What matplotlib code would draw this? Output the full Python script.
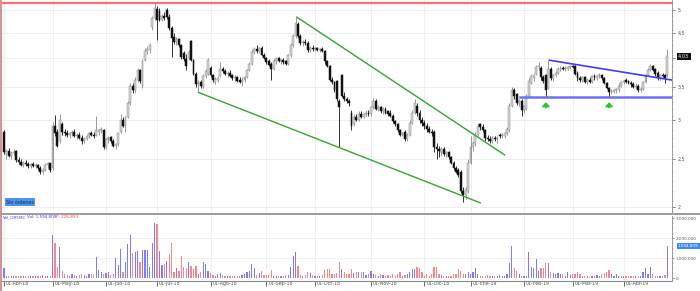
import matplotlib
matplotlib.use('Agg')
import matplotlib.pyplot as plt
import matplotlib.transforms as mtransforms
from matplotlib.lines import Line2D
from matplotlib.ticker import FixedLocator, NullFormatter
import numpy as np
import pandas as pd

# ---------------- data (daily OHLC, ORY.MC, Apr-2018 .. Apr-2019) ----------------
opens = [
    2.83,2.56,2.60,2.54,2.57,2.60,2.49,2.47,2.43,2.46,2.44,2.42,2.44,2.42,2.43,2.40,2.36,2.38,2.43,2.45,
    2.40,2.92,2.83,2.72,2.95,2.84,2.82,2.80,2.82,2.84,2.78,2.80,2.76,2.72,2.75,2.78,2.82,2.80,2.80,2.84,2.86,2.86,
    2.64,2.74,2.77,2.72,2.66,2.68,2.84,3.00,2.92,3.04,3.24,3.52,3.44,3.62,3.78,3.52,3.96,4.14,4.15,4.62,4.82,
    5.02,4.98,4.78,4.86,5.00,4.85,4.60,4.42,4.32,4.38,4.26,4.10,3.98,4.00,4.34,3.96,3.72,3.54,3.58,3.50,3.68,3.72,
    3.82,3.70,3.58,3.62,3.68,3.80,3.76,3.72,3.74,3.70,3.64,3.66,3.62,3.58,3.62,3.66,3.78,3.90,4.12,4.18,4.14,4.20,4.06,
    4.00,3.94,3.90,3.80,3.94,4.00,3.94,3.96,3.94,3.90,4.05,4.25,4.44,4.68,4.44,4.30,4.32,4.30,4.16,4.20,
    4.18,4.20,4.16,4.18,4.14,3.94,3.86,3.62,3.58,3.60,3.28,3.70,3.36,3.30,3.28,3.10,2.94,3.04,3.00,3.08,3.04,3.08,3.10,
    3.08,3.18,3.28,3.16,3.18,3.12,3.16,3.12,3.10,3.06,2.98,2.94,2.86,2.80,2.84,2.74,2.80,2.96,3.10,3.20,3.10,3.00,
    2.96,2.92,2.88,2.84,2.84,2.64,2.62,2.58,2.62,2.56,2.58,2.52,2.46,2.40,2.38,2.36,2.16,2.12,2.16,
    2.46,2.64,2.70,2.80,2.94,2.90,2.86,2.76,2.74,2.72,2.76,2.74,2.80,2.78,2.78,2.82,2.86,3.20,3.44,3.38,3.24,3.28,
    3.14,3.16,3.36,3.56,3.64,3.72,3.84,3.82,3.66,3.70,3.48,3.80,3.64,3.70,3.74,3.80,3.82,3.80,3.80,3.84,
    3.86,3.86,3.74,3.64,3.62,3.66,3.58,3.62,3.58,3.68,3.64,3.68,3.70,3.64,3.56,3.48,3.42,3.42,3.44,3.44,3.52,
    3.58,3.62,3.60,3.56,3.54,3.50,3.52,3.44,3.46,3.58,3.70,3.78,3.86,3.80,3.74,3.64,3.70,3.70,3.70,
]
highs = [
    2.86,2.62,2.63,2.60,2.62,2.61,2.52,2.50,2.48,2.49,2.47,2.46,2.47,2.45,2.44,2.42,2.40,2.45,2.47,2.46,
    2.97,3.07,2.87,3.08,2.97,2.88,2.86,2.84,2.86,2.87,2.82,2.83,2.80,2.77,2.80,2.84,2.85,2.84,3.05,2.88,2.90,2.88,
    2.76,2.78,2.79,2.74,2.70,2.84,3.08,3.04,3.06,3.28,3.56,3.56,3.66,3.82,3.80,3.98,4.20,4.24,4.30,4.86,5.17,
    5.10,5.05,4.90,4.95,5.05,4.92,4.64,4.50,4.42,4.40,4.28,4.14,4.08,4.16,4.36,3.98,3.75,3.62,3.62,3.72,3.80,4.00,
    3.86,3.72,3.66,3.68,3.92,3.84,3.80,3.76,3.78,3.72,3.70,3.68,3.66,3.66,3.68,3.80,3.92,4.18,4.22,4.26,4.22,4.24,4.10,
    4.02,3.98,3.92,3.98,4.02,4.02,3.98,4.00,3.96,4.08,4.30,4.48,4.84,4.72,4.48,4.36,4.38,4.34,4.24,4.26,
    4.22,4.22,4.20,4.22,4.16,3.96,3.88,3.66,3.60,3.62,3.30,3.72,3.42,3.34,3.30,3.14,3.08,3.08,3.12,3.12,3.10,3.14,3.14,
    3.20,3.32,3.30,3.22,3.20,3.18,3.18,3.14,3.14,3.08,3.00,2.96,2.88,2.84,2.86,2.82,3.00,3.14,3.30,3.24,3.14,3.04,
    3.00,2.96,2.92,2.88,2.86,2.70,2.66,2.64,2.64,2.60,2.60,2.54,2.48,2.42,2.40,2.38,2.20,2.20,2.50,
    2.78,2.72,2.84,2.96,2.96,2.94,2.88,2.80,2.78,2.78,2.78,2.78,2.82,2.82,2.84,2.90,3.24,3.50,3.48,3.40,3.30,3.30,
    3.22,3.38,3.64,3.72,3.72,3.88,3.92,3.86,3.70,3.72,3.96,3.84,3.72,3.76,3.84,3.86,3.86,3.86,3.86,3.88,
    3.88,3.88,3.76,3.68,3.68,3.68,3.64,3.66,3.70,3.72,3.70,3.74,3.72,3.66,3.58,3.50,3.46,3.46,3.48,3.56,3.60,
    3.62,3.64,3.62,3.60,3.58,3.56,3.54,3.50,3.60,3.72,3.82,3.90,3.88,3.82,3.76,3.72,3.74,3.72,4.18,
]
lows = [
    2.56,2.50,2.52,2.50,2.55,2.47,2.44,2.42,2.41,2.42,2.40,2.40,2.41,2.40,2.38,2.33,2.33,2.37,2.40,2.36,
    2.38,2.78,2.64,2.70,2.80,2.78,2.77,2.76,2.79,2.77,2.74,2.74,2.68,2.70,2.73,2.76,2.78,2.76,2.78,2.80,2.82,2.62,
    2.62,2.70,2.70,2.64,2.62,2.66,2.82,2.90,2.84,3.02,3.22,3.40,3.40,3.58,3.56,3.48,3.94,4.08,4.10,4.55,4.78,
    4.35,4.75,4.75,4.78,4.80,4.55,4.02,4.28,4.25,4.22,3.98,3.94,3.78,3.96,3.94,3.70,3.50,3.42,3.48,3.48,3.64,3.70,
    3.66,3.58,3.55,3.58,3.66,3.74,3.70,3.66,3.66,3.62,3.60,3.58,3.56,3.52,3.58,3.64,3.76,3.88,4.08,4.10,4.10,4.04,3.98,
    3.90,3.86,3.62,3.78,3.90,3.92,3.90,3.90,3.88,3.88,4.02,4.22,4.40,4.40,4.25,4.24,4.26,4.12,4.12,4.14,
    4.14,4.14,4.12,4.12,3.90,3.84,3.60,3.54,3.42,3.28,2.64,3.34,3.28,3.24,3.20,2.86,2.92,2.98,2.98,3.02,3.02,3.06,3.06,
    3.06,3.16,3.14,3.12,3.10,3.08,3.08,3.06,3.04,2.96,2.92,2.84,2.78,2.78,2.72,2.72,2.78,2.94,3.08,3.06,2.96,2.92,
    2.88,2.84,2.82,2.78,2.58,2.50,2.52,2.54,2.54,2.52,2.50,2.44,2.38,2.34,2.30,2.14,2.05,2.08,2.14,
    2.44,2.60,2.66,2.78,2.86,2.84,2.72,2.72,2.70,2.70,2.72,2.70,2.76,2.76,2.76,2.80,2.84,3.18,3.30,3.22,3.20,3.06,
    3.10,3.14,3.34,3.54,3.60,3.70,3.78,3.62,3.56,3.34,3.46,3.62,3.60,3.66,3.72,3.76,3.78,3.76,3.78,3.80,
    3.82,3.70,3.60,3.58,3.58,3.56,3.54,3.56,3.56,3.62,3.62,3.64,3.62,3.54,3.46,3.34,3.38,3.40,3.40,3.42,3.50,
    3.54,3.56,3.54,3.50,3.48,3.46,3.42,3.42,3.44,3.56,3.68,3.76,3.76,3.68,3.62,3.62,3.66,3.56,3.66,
]
closes = [
    2.58,2.60,2.54,2.57,2.59,2.49,2.47,2.43,2.46,2.44,2.42,2.44,2.42,2.43,2.40,2.36,2.38,2.43,2.45,2.38,
    2.92,2.82,2.66,3.00,2.84,2.82,2.80,2.82,2.84,2.78,2.80,2.76,2.72,2.75,2.78,2.82,2.80,2.78,2.86,2.86,2.88,2.64,
    2.74,2.76,2.72,2.66,2.68,2.82,3.00,2.92,3.04,3.24,3.52,3.44,3.62,3.78,3.60,3.94,4.14,4.18,4.25,4.82,5.05,
    4.77,4.78,4.86,4.82,4.84,4.60,4.40,4.32,4.38,4.26,4.02,3.98,3.85,4.12,3.96,3.72,3.54,3.56,3.52,3.68,3.76,3.96,
    3.70,3.62,3.63,3.65,3.80,3.76,3.72,3.74,3.68,3.64,3.66,3.60,3.58,3.62,3.66,3.78,3.90,4.12,4.18,4.14,4.20,4.06,4.00,
    3.92,3.88,3.80,3.94,3.98,3.94,3.96,3.92,3.90,4.05,4.25,4.44,4.70,4.44,4.30,4.32,4.30,4.16,4.20,4.18,
    4.20,4.16,4.18,4.14,3.94,3.86,3.62,3.58,3.44,3.30,3.18,3.36,3.30,3.28,3.24,2.92,3.04,3.00,3.08,3.04,3.08,3.10,3.08,
    3.18,3.28,3.16,3.18,3.12,3.16,3.10,3.08,3.06,2.98,2.94,2.86,2.80,2.82,2.74,2.80,2.96,3.10,3.24,3.10,3.00,2.96,
    2.92,2.88,2.84,2.82,2.64,2.62,2.60,2.62,2.56,2.58,2.52,2.46,2.40,2.36,2.32,2.16,2.12,2.18,2.46,
    2.64,2.70,2.80,2.92,2.90,2.86,2.76,2.74,2.72,2.76,2.74,2.76,2.78,2.80,2.82,2.88,3.20,3.44,3.36,3.24,3.28,3.14,
    3.20,3.36,3.60,3.68,3.70,3.84,3.86,3.66,3.60,3.44,3.80,3.64,3.70,3.74,3.80,3.82,3.80,3.82,3.84,3.86,
    3.84,3.72,3.64,3.62,3.66,3.58,3.62,3.58,3.68,3.66,3.68,3.70,3.64,3.56,3.48,3.42,3.42,3.44,3.46,3.52,3.58,
    3.60,3.58,3.56,3.54,3.50,3.52,3.44,3.46,3.58,3.70,3.78,3.86,3.78,3.72,3.64,3.70,3.68,3.64,4.03,
]
# volume in millions of shares
volumes_m = [
    0.50,0.12,0.08,0.10,0.12,0.10,0.09,0.10,0.12,0.10,0.11,0.10,0.09,0.10,0.12,0.10,0.14,0.10,0.12,0.10,
    2.15,1.75,0.55,1.55,0.35,0.20,0.15,0.12,0.18,0.14,0.12,0.16,0.20,0.14,0.12,0.18,0.20,0.15,1.05,0.40,0.30,0.20,
    0.25,0.30,0.15,0.20,1.00,0.65,1.45,0.30,0.80,1.70,2.15,1.25,1.30,1.35,0.80,1.40,1.40,1.40,0.55,1.75,2.75,
    2.70,1.35,0.65,0.70,0.85,1.20,1.75,0.30,0.50,0.35,1.10,0.55,0.50,0.80,0.60,0.45,0.60,0.20,0.30,0.80,0.70,0.35,
    0.25,0.15,0.12,0.20,0.25,0.15,0.12,0.10,0.12,0.10,0.10,0.12,0.10,0.15,0.20,0.30,0.35,0.70,0.50,0.15,0.25,0.35,0.15,
    0.15,0.15,0.40,0.12,0.10,0.12,0.10,0.12,0.15,0.15,0.55,1.10,1.30,0.60,0.15,0.12,0.15,0.30,0.25,0.15,
    0.08,0.12,0.08,0.15,0.40,0.45,0.45,0.20,0.20,0.25,0.80,0.45,0.30,0.20,0.20,0.45,0.25,0.30,0.30,0.28,0.30,0.15,0.20,
    0.35,0.20,0.15,0.12,0.20,0.15,0.10,0.15,0.10,0.20,0.10,0.22,0.30,0.10,0.15,0.20,0.30,0.45,0.45,0.55,0.50,0.30,
    0.10,0.22,0.10,0.20,0.55,0.55,0.20,0.15,0.10,0.10,0.10,0.10,0.20,0.20,0.45,0.35,0.20,0.20,0.30,
    0.20,0.30,0.50,0.20,0.10,0.12,0.10,0.15,0.12,0.10,0.12,0.10,0.15,0.12,0.10,0.20,0.75,1.60,0.50,0.35,0.20,0.10,
    0.10,0.10,1.30,0.55,0.50,0.95,0.35,0.50,0.50,0.75,0.75,0.30,0.25,0.20,0.25,0.20,0.20,0.10,0.30,0.15,
    0.20,0.18,0.30,0.20,0.10,0.10,0.08,0.05,0.10,0.10,0.15,0.10,0.20,0.25,0.30,0.40,0.20,0.10,0.20,0.10,0.08,
    0.08,0.10,0.08,0.10,0.08,0.10,0.10,0.10,0.30,0.50,0.20,0.55,0.20,0.10,0.10,0.10,0.10,0.15,1.594809,
]
market_holidays = ['2018-05-01', '2018-12-25', '2018-12-26', '2019-01-01', '2019-04-19', '2019-04-22']
month_names = ['Ene', 'Feb', 'Mar', 'Abr', 'May', 'Jun', 'Jul', 'Ago', 'Sep', 'Oct', 'Nov', 'Dic']
price_ticks = [2, 2.5, 3, 3.5, 4, 4.5, 5]
volume_ticks = [0, 1_000_000, 2_000_000, 3_000_000]

# drawn studies (bar index, price)
resistance_level = 5.17
lower_channel = ([80, 196], [3.41, 2.04])
upper_channel = ([120.5, 206], [4.84, 2.55])
triangle_top = ([224.5, 275], [3.96, 3.61])
triangle_base = ([212.5, 275], [3.34, 3.34])
signal_bars = [223, 249]
legend_p = '226.893'

# ---------------- build ----------------
o = np.array(opens); h = np.array(highs); l = np.array(lows); c = np.array(closes)
vol = np.array(volumes_m) * 1e6
n = min(len(o), len(h), len(l), len(c), len(vol))
o, h, l, c, vol = o[:n], h[:n], l[:n], c[:n], vol[:n]
x = np.arange(n)

bd = pd.bdate_range('2018-04-03', '2019-07-31')
bd = bd[~bd.isin(pd.to_datetime(market_holidays))][:n]

def es_num(v):
    return f"{v:,.0f}".replace(',', '.')

def es_dec(v):
    return f"{v:g}".replace('.', ',')

W, H = 700, 291
fig = plt.figure(figsize=(W / 100, H / 100), dpi=100)
fig.patch.set_facecolor('white')

ax = fig.add_axes([2 / W, 1 - 212 / H, 670 / W, 212 / H])
axv = fig.add_axes([2 / W, 1 - 281 / H, 670 / W, 65 / H], sharex=ax)

month_idx = [i for i in range(n) if i == 0 or bd[i].month != bd[i - 1].month]
month_lbl = [f"01-{month_names[bd[i].month - 1]}-{bd[i].strftime('%y')}" for i in month_idx]

grid_c = '#ececec'
for a in (ax, axv):
    for i in month_idx:
        a.axvline(i, color=grid_c, lw=0.6, zorder=0)
for p in price_ticks:
    ax.axhline(p, color=grid_c, lw=0.6, zorder=0)
for v in volume_ticks[1:3]:
    axv.axhline(v, color=grid_c, lw=0.6, zorder=0)

# candles
up = c >= o
ax.vlines(x[up], l[up], h[up], color='#8a8a8a', lw=0.6, zorder=2)
ax.vlines(x[~up], l[~up], h[~up], color='#111111', lw=0.6, zorder=2)
body = np.maximum(np.abs(c - o), 0.01)
ax.bar(x[up], body[up], bottom=np.minimum(o, c)[up], width=0.78,
       color='#d6d6d6', edgecolor='#8a8a8a', lw=0.35, zorder=3)
ax.bar(x[~up], body[~up], bottom=np.minimum(o, c)[~up], width=0.78,
       color='#111111', edgecolor='#111111', lw=0.35, zorder=3)

ax.set_yscale('log')
ax.set_ylim(1.955, 5.24)
ax.set_xlim(-0.8, n + 0.9)

# studies
ax.axhline(resistance_level, color='#ff6e6e', lw=1.6, zorder=4)
ax.plot(*lower_channel, color='#2ea82e', lw=1.0, zorder=4)
ax.plot(*upper_channel, color='#2ea82e', lw=1.0, zorder=4)
ax.plot(*triangle_top, color='#3c3cff', lw=1.2, zorder=4)
ax.plot(*triangle_base, color='#6e6eff', lw=1.8, zorder=4)
for b in signal_bars:
    ax.annotate('', xy=(b, l[b] * 0.975), xytext=(b, l[b] * 0.952),
                arrowprops=dict(arrowstyle='-|>,head_width=0.2,head_length=0.2',
                                color='#22cc22', lw=1.4, shrinkA=0, shrinkB=0), zorder=5)

# last-price marker label takes the place of the tick label it covers
last_txt = es_dec(round(c[-1], 2))
covered = min(price_ticks, key=lambda p: abs(np.log(p) - np.log(c[-1])))
price_lbls = ['' if (p == covered and abs(np.log(p / c[-1])) < 0.03) else es_dec(p) for p in price_ticks]

# price axis
ax.yaxis.tick_right()
ax.yaxis.set_major_locator(FixedLocator(price_ticks))
ax.set_yticklabels(price_lbls)
ax.yaxis.set_minor_locator(FixedLocator(np.arange(1.96, 5.24, 0.1)))
ax.yaxis.set_minor_formatter(NullFormatter())
ax.tick_params(axis='y', which='major', labelsize=3.4, length=2, width=0.5, colors='#555555', pad=2)
ax.tick_params(axis='y', which='minor', length=1, width=0.4, colors='#888888')
ax.tick_params(axis='x', which='both', bottom=False, labelbottom=False)
for s in ('left', 'top', 'bottom'):
    ax.spines[s].set_visible(False)
ax.spines['right'].set_color('#8a8a8a')
ax.spines['right'].set_linewidth(0.6)

trans = mtransforms.blended_transform_factory(ax.transAxes, ax.transData)
ax.text(1.009, c[-1], last_txt, transform=trans, fontsize=3.6, color='white',
        va='center', ha='left', zorder=10, clip_on=False,
        bbox=dict(facecolor='#111111', edgecolor='none', pad=1.0))

fig.text(6 / W, 1 - 202 / H, 'Sin órdenes', fontsize=3.4, color='#1a2a4a', va='center', ha='left',
         bbox=dict(facecolor='#4d94ea', edgecolor='none', pad=0.8))

# volume
vcol = np.where(np.r_[True, c[1:] >= c[:-1]], '#7c7cff', '#ff8585')
axv.bar(x, vol, width=0.5, color=vcol, zorder=2)
axv.set_ylim(-0.15e6, 3.1e6)
axv.yaxis.tick_right()
axv.yaxis.set_major_locator(FixedLocator(volume_ticks))
axv.set_yticklabels([es_num(v) for v in volume_ticks])
axv.yaxis.set_minor_locator(FixedLocator(np.arange(0, 3.1e6, 250_000)))
axv.yaxis.set_minor_formatter(NullFormatter())
axv.tick_params(axis='y', which='major', labelsize=3.0, length=1.5, width=0.5, colors='#555555', pad=1.2)
axv.tick_params(axis='y', which='minor', length=0.8, width=0.4, colors='#888888')
for s in ('left', 'top'):
    axv.spines[s].set_visible(False)
axv.spines['right'].set_color('#8a8a8a')
axv.spines['right'].set_linewidth(0.6)
axv.spines['bottom'].set_color('#8a8a8a')
axv.spines['bottom'].set_linewidth(0.8)

axv.set_xticks(month_idx)
axv.set_xticklabels(month_lbl)
axv.tick_params(axis='x', labelsize=3.4, length=3.5, width=0.6, colors='#555555', pad=-3.2)
off = mtransforms.ScaledTranslation(1.5 / 72, 0, fig.dpi_scale_trans)
for lab in axv.get_xticklabels():
    lab.set_horizontalalignment('left')
    lab.set_transform(lab.get_transform() + off)

transv = mtransforms.blended_transform_factory(axv.transAxes, axv.transData)
axv.text(1.009, vol[-1], es_num(vol[-1]), transform=transv, fontsize=3.0, color='white',
         va='center', ha='left', zorder=10, clip_on=False,
         bbox=dict(facecolor='#3d8bf0', edgecolor='none', pad=0.7))

vtxt = es_num(vol[-1])
fig.text(3 / W, 1 - 217.5 / H, 'Vol_ORY.MC', fontsize=3.0, color='#3c3cff', va='center', ha='left')
fig.text(27 / W, 1 - 217.5 / H, f'Vol: {vtxt}', fontsize=3.0, color='#3c3cff', va='center', ha='left')
fig.text(56 / W, 1 - 217.5 / H, f'P: {legend_p}', fontsize=3.0, color='#ff3c3c', va='center', ha='left')

# panel separator and left border
fig.add_artist(Line2D([0, 1], [1 - 213.5 / H, 1 - 213.5 / H], color='#8c8c8c', lw=1.2))
fig.add_artist(Line2D([0.8 / W, 0.8 / W], [0, 1], color='#cf8a8a', lw=1.3))

fig.savefig('out.png', dpi=100, facecolor='white')
